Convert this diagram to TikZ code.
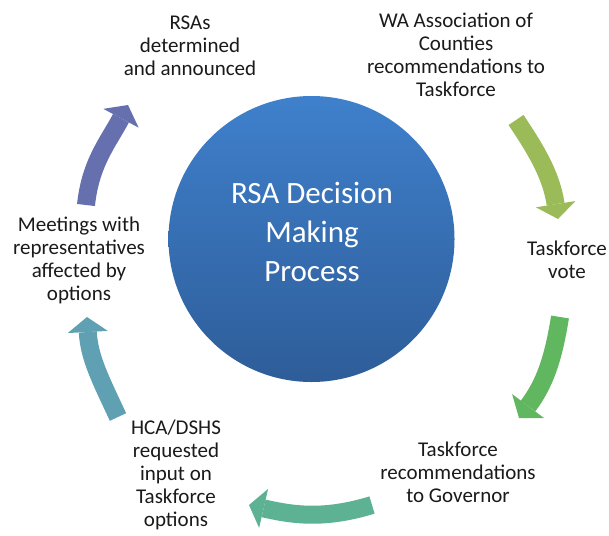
\documentclass[tikz,border=0pt]{standalone}
\usepackage{fontspec}
\setmainfont{Carlito}
\usetikzlibrary{arrows.meta}
\definecolor{cA}{HTML}{9BBB59}
\definecolor{cB}{HTML}{61B660}
\definecolor{cC}{HTML}{5CB292}
\definecolor{cD}{HTML}{5FA0B2}
\definecolor{cE}{HTML}{6670AF}
\definecolor{hubtop}{HTML}{3F80CC}
\definecolor{hubbot}{HTML}{2E5D99}
\definecolor{txt}{HTML}{1A1A1A}
\begin{document}
\begin{tikzpicture}[x=1pt,y=1pt,
  lbl/.style={align=center, font=\fontsize{21}{23}\selectfont, inner sep=0pt, text=txt},
  cyc/.style={line width=18pt, -{Triangle[width=40pt,length=15pt,line width=0pt]}},
]
\useasboundingbox (0,0) rectangle (609,-535);
\fill[white] (0,0) rectangle (609,-535);
% hub
\node[circle, minimum size=286pt, inner sep=0pt, top color=hubtop, bottom color=hubbot, draw=none] (hub) at (311.5,-239) {};
\node[align=center, inner sep=0pt, text=white, font=\fontsize{31}{39}\selectfont] (hubtext) at (312,-231.5) {RSA Decision\\Making\\Process};
% labels
\node[lbl] (n1) at (456,-55) {WA Association of\\Counties\\recommendations to\\Taskforce};
\node[lbl] (n2) at (567,-259.5) {Taskforce\\vote};
\node[lbl] (n3) at (458,-472.5) {Taskforce\\recommendations\\to Governor};
\node[lbl] (n4) at (176,-474.5) {HCA/DSHS\\requested\\input on\\Taskforce\\options};
\node[lbl] (n5) at (79,-260.5) {Meetings with\\representatives\\affected by\\options};
\node[lbl] (n6) at (190,-46) {RSAs\\determined\\and announced};
% arrow ends
\coordinate (a1s) at (516,-120); \coordinate (a1e) at (558,-219);
\coordinate (a2s) at (560,-317); \coordinate (a2e) at (519,-418);
\coordinate (a3s) at (372,-505); \coordinate (a3e) at (249,-505);
\coordinate (a4s) at (118,-417); \coordinate (a4e) at (87,-317);
\coordinate (a5s) at (86,-205);  \coordinate (a5e) at (128,-105);
\draw[cyc, cA] (a1s) to[out=-56, in=99] (a1e);
\draw[cyc, cB] (a2s) to[out=-99, in=53] (a2e);
\draw[cyc, cC] (a3s) to[out=197, in=-13] (a3e);
\draw[cyc, cD] (a4s) to[out=115, in=-87] (a4e);
\draw[cyc, cE] (a5s) to[out=84, in=-118] (a5e);
\end{tikzpicture}
\end{document}
